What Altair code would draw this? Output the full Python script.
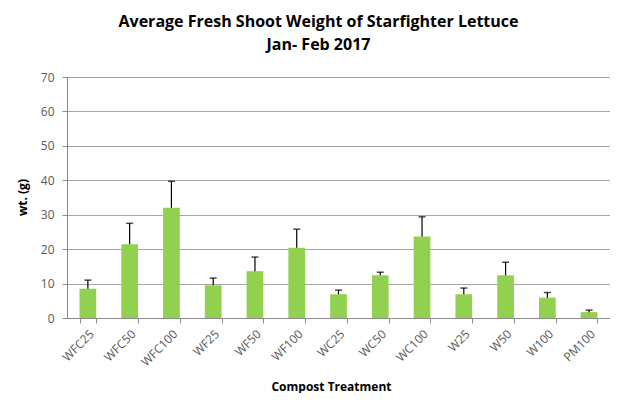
import altair as alt
import pandas as pd

treatments = ["WFC25", "WFC50", "WFC100", "WF25", "WF50", "WF100", "WC25",
              "WC50", "WC100", "W25", "W50", "W100", "PM100"]
weights = [8.5, 21.4, 32.0, 9.5, 13.6, 20.4, 6.9, 12.4, 23.7, 6.9, 12.4, 5.9, 1.7]
err_top = [11.0, 27.5, 39.7, 11.6, 17.7, 25.8, 8.1, 13.3, 29.4, 8.7, 16.2, 7.4, 2.3]

df = pd.DataFrame({"t": treatments, "w": weights, "e": err_top})

FONT = "Open Sans"
GRAY = "#595959"

x_axis = alt.Axis(title="Compost Treatment", labelAngle=-45, grid=False,
                  tickBand="extent", tickSize=5, labelFontSize=12,
                  labelColor=GRAY, labelFont=FONT, labelPadding=5,
                  titleFont=FONT, titleFontSize=12, titleFontWeight="bold",
                  titleColor="#000000", titleX=264, titleY=68,
                  titleBaseline="middle",
                  domainColor="#8c8c8c", tickColor="#8c8c8c")
y_axis = alt.Axis(title="wt. (g)", values=list(range(0, 71, 10)),
                  tickSize=5, labelFontSize=12, labelColor=GRAY,
                  labelFont=FONT, labelPadding=8,
                  titleFont=FONT, titleFontSize=12, titleFontWeight="bold",
                  titleColor="#000000", titleX=-45, titleY=120,
                  titleAngle=-90, titleBaseline="middle", titleAlign="center",
                  gridColor="#a6a6a6", domainColor="#8c8c8c",
                  tickColor="#8c8c8c")
x_scale = alt.Scale(paddingInner=0.6, paddingOuter=0.3)
y_scale = alt.Scale(domain=[0, 70])

def X():
    return alt.X("t:N", sort=treatments, scale=x_scale, axis=x_axis)

def Y(field):
    return alt.Y(field, scale=y_scale, axis=y_axis)

bars = alt.Chart(df).mark_bar(color="#92D050").encode(x=X(), y=Y("w:Q"))
rules = alt.Chart(df).mark_rule(color="#000000", strokeWidth=1.2).encode(
    x=X(), y=Y("w:Q"), y2="e:Q")
caps = alt.Chart(df).mark_tick(color="#000000", thickness=1.5, size=7,
                               orient="horizontal").encode(
    x=X(), y=Y("e:Q"))

chart = (bars + rules + caps).properties(
    width=543, height=241,
    autosize=alt.AutoSizeParams(type="none"),
    padding={"left": 59, "top": 69, "right": 0, "bottom": 75},
    title=alt.TitleParams(
        text=["Average Fresh Shoot Weight of Starfighter Lettuce", "Jan- Feb 2017"],
        font=FONT, fontSize=16, fontWeight="bold", color="#000000",
        anchor="middle", dx=-20, offset=18, lineHeight=23),
).configure_view(stroke="transparent").configure(background="#ffffff")

chart.save("out.html", embed_options={"renderer": "svg", "actions": False})
